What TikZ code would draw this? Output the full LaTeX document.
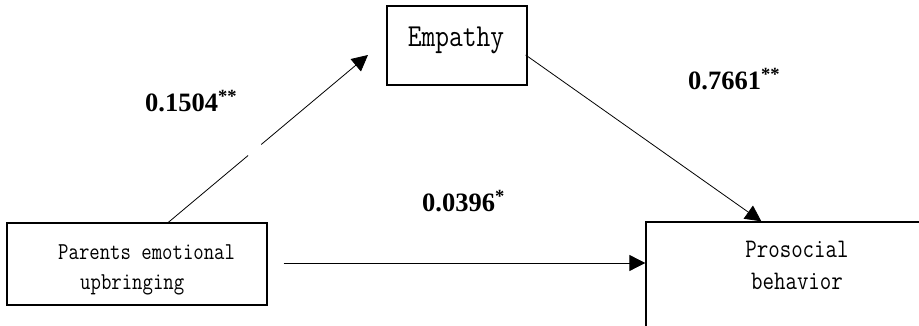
\documentclass[tikz,border=0pt]{standalone}
\usepackage{fontspec}
\newfontfamily\labelfont{Liberation Serif}
\usetikzlibrary{arrows.meta,calc}
\newcommand\tallmono[1]{\scalebox{1}[1.2]{#1}}
\begin{document}
\begin{tikzpicture}[x=1pt,y=1pt,
  box/.style={draw, line width=1.3pt, inner sep=0pt},
  link/.style={line width=0.8pt, -{Triangle[length=16pt,width=16pt]}},
  monoA/.style={inner sep=0pt, font=\ttfamily\fontsize{20.2}{24}\selectfont},
  monoB/.style={inner sep=0pt, font=\ttfamily\fontsize{22.3}{26}\selectfont},
  monoC/.style={inner sep=0pt, font=\ttfamily\fontsize{26.7}{30}\selectfont},
  coef/.style={inner sep=0pt, anchor=base west, font=\labelfont\bfseries\fontsize{26.5}{30}\selectfont}]
\useasboundingbox (0,0) rectangle (919,326);
\clip (0,0) rectangle (919,326);
% boxes
\node[box, minimum width=260pt, minimum height=82pt] (par) at (137,62) {};
\node[box, minimum width=140pt, minimum height=79pt] (emp) at (457,280.5) {};
\node[box, minimum width=279pt, minimum height=114pt] (pro) at (785.5,47) {};
% box texts
\node[monoA, anchor=base west] (parA) at (58,66) {\tallmono{Parents emotional}};
\node[monoA, anchor=base west] (parB) at (80,36) {\tallmono{upbringing}};
\node[monoC, anchor=base] (empT) at (456,279) {\tallmono{Empathy}};
\node[monoB, anchor=base] (proA) at (797,68) {\tallmono{Prosocial}};
\node[monoB, anchor=base] (proB) at (797,36) {\tallmono{behavior}};
% coefficients
\node[coef] (c1) at (145,214) {0.1504\textsuperscript{**}};
\node[coef] (c2) at (688,236) {0.7661\textsuperscript{**}};
\node[coef] (c3) at (422,114) {0.0396\textsuperscript{*}};
% connectors
\coordinate (parout) at ($(par.north west)+(162,0)$);
\coordinate (empin) at (368,271);
\draw[link] (parout) -- (empin);
\draw[white, line width=3pt] ($(parout)!0.40!(empin)$) -- ($(parout)!0.465!(empin)$);
\coordinate (empout) at ($(emp.east)+(-2,-9.5)$);
\coordinate (proin) at ($(pro.north west)+(116,0)$);
\draw[link] (empout) -- (proin);
\coordinate (parright) at ($(par.east)+(16,1)$);
\draw[link] (parright) -- (parright -| pro.west);
\end{tikzpicture}
\end{document}
